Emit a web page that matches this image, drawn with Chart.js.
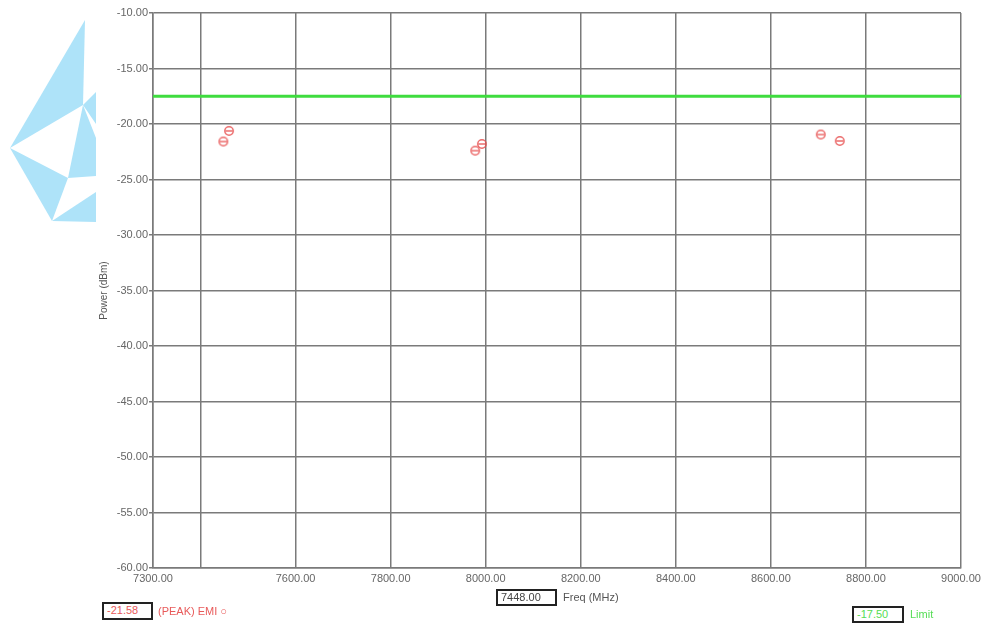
<!DOCTYPE html>
<html>
<head>
<meta charset="utf-8">
<script src="https://cdn.jsdelivr.net/npm/chart.js@4/dist/chart.umd.min.js"></script>
<style>
  body { margin: 0; background: #fff; font-family: "Liberation Sans", Arial, sans-serif; }
  #wrap { position: relative; width: 987px; height: 626px; }
  #logo { position: absolute; left: 0; top: 0; }
  #chart { position: absolute; left: 0; top: 0; }
  .box { position: absolute; border: 2px solid #222; background: #fff; font-size: 11px; line-height: 13px; padding-left: 3px; box-sizing: border-box; }
  .lbl { position: absolute; font-size: 11px; line-height: 13px; }
</style>
</head>
<body>
<div id="wrap">
  <svg id="logo" width="96" height="230">
    <polygon points="85,20 10,148 83,105" fill="#aee3f9"/>
    <polygon points="83,105 96,92 96,124" fill="#aee3f9"/>
    <polygon points="83,105 68,178 96,176 96,138" fill="#aee3f9"/>
    <polygon points="10,148 68,178 52,221" fill="#aee3f9"/>
    <polygon points="52,221 96,192 96,222" fill="#aee3f9"/>
  </svg>
  <canvas id="chart" width="987" height="626"></canvas>
  <div class="box" style="left:102px;top:602px;width:51px;height:18px;color:#e85a5a;">-21.58</div>
  <div class="lbl" style="left:158px;top:605px;color:#e85a5a;">(PEAK) EMI &#9675;</div>
  <div class="box" style="left:496px;top:589px;width:61px;height:17px;color:#444;">7448.00</div>
  <div class="lbl" style="left:563px;top:591px;color:#555;">Freq (MHz)</div>
  <div class="box" style="left:852px;top:606px;width:52px;height:17px;color:#55dd55;">-17.50</div>
  <div class="lbl" style="left:910px;top:608px;color:#55dd55;">Limit</div>
</div>
<script>
// EMI peaks
const emiFreq = [7448, 7460, 7978, 7992, 8705, 8745];
const emiPower = [-21.58, -20.62, -22.40, -21.80, -20.95, -21.53];

// limit line
const limitFreq = [7300, 9000];
const limitLevel = [-17.5, -17.5];

// x axis ticks (7400 has a grid line but no label)
const xTickValues = [7300, 7400, 7600, 7800, 8000, 8200, 8400, 8600, 8800, 9000];
const xTickLabels = ['7300.00', '', '7600.00', '7800.00', '8000.00', '8200.00', '8400.00', '8600.00', '8800.00', '9000.00'];

// circle marker with a bar through it
function makeMarker() {
  const c = document.createElement('canvas');
  c.width = 12; c.height = 12;
  const g = c.getContext('2d');
  g.strokeStyle = 'rgba(232,80,80,0.85)';
  g.lineWidth = 1.5;
  g.beginPath();
  g.arc(6, 6, 4.2, 0, Math.PI * 2);
  g.stroke();
  g.beginPath();
  g.moveTo(2.5, 6);
  g.lineTo(9.5, 6);
  g.stroke();
  return c;
}

const gridColor = '#7a7a7a';
const tickFont = { family: 'Liberation Sans, Arial, sans-serif', size: 11 };

new Chart(document.getElementById('chart'), {
  type: 'scatter',
  data: {
    datasets: [
      {
        label: 'Limit',
        type: 'line',
        data: limitFreq.map((f, i) => ({ x: f, y: limitLevel[i] })),
        borderColor: '#3fdc3f',
        borderWidth: 3,
        pointRadius: 0
      },
      {
        label: '(PEAK) EMI',
        data: emiFreq.map((f, i) => ({ x: f, y: emiPower[i] })),
        pointStyle: makeMarker(),
        pointRadius: 5
      }
    ]
  },
  options: {
    responsive: false,
    animation: false,
    layout: { padding: { left: 95, right: 26, top: 13, bottom: 0 } },
    plugins: {
      legend: { display: false },
      tooltip: { enabled: false }
    },
    scales: {
      x: {
        type: 'linear',
        min: 7300,
        max: 9000,
        afterBuildTicks: axis => { axis.ticks = xTickValues.map(v => ({ value: v })); },
        afterFit: axis => { axis.height = 58; },
        ticks: {
          autoSkip: false,
          maxRotation: 0,
          padding: 4,
          color: '#666',
          font: tickFont,
          callback: (v) => xTickLabels[xTickValues.indexOf(v)]
        },
        grid: { color: gridColor, lineWidth: 1.5, drawTicks: false },
        border: { color: gridColor, width: 1.5 }
      },
      y: {
        min: -60,
        max: -10,
        afterFit: axis => { axis.width = 58; },
        ticks: {
          stepSize: 5,
          padding: 1,
          color: '#666',
          font: tickFont,
          callback: v => v.toFixed(2)
        },
        title: {
          display: true,
          text: 'Power (dBm)',
          color: '#555',
          font: { family: 'Liberation Sans, Arial, sans-serif', size: 10 },
          padding: { top: 3, bottom: 0 }
        },
        grid: { color: gridColor, lineWidth: 1.5, tickLength: 4 },
        border: { color: gridColor, width: 1.5 }
      }
    }
  }
});
</script>
</body>
</html>
